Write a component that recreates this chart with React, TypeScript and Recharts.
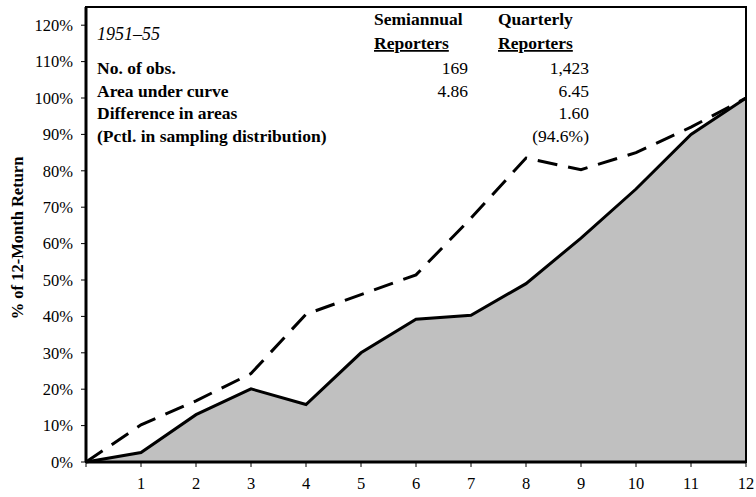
import React from 'react';
import { ComposedChart, Area, Line, XAxis, YAxis, ReferenceArea } from 'recharts';

const months = [0, 1, 2, 3, 4, 5, 6, 7, 8, 9, 10, 11, 12];
const semiannual = [0, 0.026, 0.13, 0.201, 0.158, 0.3, 0.392, 0.403, 0.49, 0.615, 0.75, 0.9, 1.0];
const quarterly = [0, 0.102, 0.168, 0.243, 0.406, 0.46, 0.514, 0.67, 0.835, 0.803, 0.85, 0.92, 1.0];
const yTicks = [0, 0.1, 0.2, 0.3, 0.4, 0.5, 0.6, 0.7, 0.8, 0.9, 1.0, 1.1, 1.2];
const xTicks = [0, 1, 2, 3, 4, 5, 6, 7, 8, 9, 10, 11, 12];

const rowLabels = ['No. of obs.', 'Area under curve', 'Difference in areas', '(Pctl. in sampling distribution)'];
const semiValues = ['169', '4.86', '', ''];
const quartValues = ['1,423', '6.45', '1.60', '(94.6%)'];

const data = months.map((m, i) => ({ m, semi: semiannual[i], quart: quarterly[i] }));

const FONT = '"Liberation Serif", "Times New Roman", serif';
const TFS = 17.5;

export default function App() {
  return (
    <div style={{ position: 'absolute', left: 0, top: 0, width: 756, height: 497, background: '#fff', fontFamily: FONT }}>
      <ComposedChart width={756} height={497} data={data} margin={{ top: 7, right: 10, bottom: 5, left: 0 }}>
        <XAxis
          dataKey="m"
          type="number"
          domain={[0, 12]}
          ticks={xTicks}
          tickFormatter={(v: number) => (v === 0 ? '' : String(v))}
          height={30}
          tickSize={5}
          tickMargin={10}
          stroke="#000"
          strokeWidth={3}
          tick={{ fill: '#000', fontSize: 16.5, fontFamily: FONT }}
          tickLine={{ stroke: '#000', strokeWidth: 1 }}
        />
        <YAxis
          type="number"
          domain={[0, 1.25]}
          ticks={yTicks}
          width={86}
          tickSize={5}
          tickMargin={8}
          tickFormatter={(v: number) => `${Math.round(v * 100)}%`}
          stroke="#000"
          strokeWidth={3}
          tick={{ fill: '#000', fontSize: 16.5, fontFamily: FONT }}
          tickLine={{ stroke: '#000', strokeWidth: 1 }}
        />
        <Area
          type="linear"
          dataKey="semi"
          stroke="#000"
          strokeWidth={3}
          fill="#c0c0c0"
          fillOpacity={1}
          isAnimationActive={false}
        />
        <Line
          type="linear"
          dataKey="quart"
          stroke="#000"
          strokeWidth={3}
          strokeDasharray="20 11"
          dot={false}
          isAnimationActive={false}
        />
        <ReferenceArea x1={0} x2={12} y1={0} y2={1.25} fill="none" stroke="#000" strokeWidth={2} ifOverflow="visible" />
      </ComposedChart>
      <svg width={756} height={497} style={{ position: 'absolute', left: 0, top: 0, pointerEvents: 'none' }}>
        <text
          transform="translate(23,238) rotate(-90)"
          textAnchor="middle"
          fontFamily={FONT}
          fontWeight="bold"
          fontSize={16.5}
          fill="#000"
        >
          % of 12-Month Return
        </text>
        <text x={97} y={40} fontFamily={FONT} fontStyle="italic" fontSize={18} fill="#000">1951–55</text>
        {rowLabels.map((t, i) => (
          <text key={t} x={97} y={74 + i * 22.6} fontFamily={FONT} fontWeight="bold" fontSize={TFS} fill="#000">{t}</text>
        ))}
        <text x={374} y={25} fontFamily={FONT} fontWeight="bold" fontSize={TFS} fill="#000">Semiannual</text>
        <text x={374} y={49} fontFamily={FONT} fontWeight="bold" fontSize={TFS} fill="#000" textDecoration="underline">Reporters</text>
        <text x={498} y={25} fontFamily={FONT} fontWeight="bold" fontSize={TFS} fill="#000">Quarterly</text>
        <text x={498} y={49} fontFamily={FONT} fontWeight="bold" fontSize={TFS} fill="#000" textDecoration="underline">Reporters</text>
        {semiValues.map((t, i) => (
          <text key={'s' + i} x={468} y={74 + i * 22.6} textAnchor="end" fontFamily={FONT} fontSize={TFS} fill="#000">{t}</text>
        ))}
        {quartValues.map((t, i) => (
          <text key={'q' + i} x={589} y={74 + i * 22.6} textAnchor="end" fontFamily={FONT} fontSize={TFS} fill="#000">{t}</text>
        ))}
      </svg>
    </div>
  );
}
